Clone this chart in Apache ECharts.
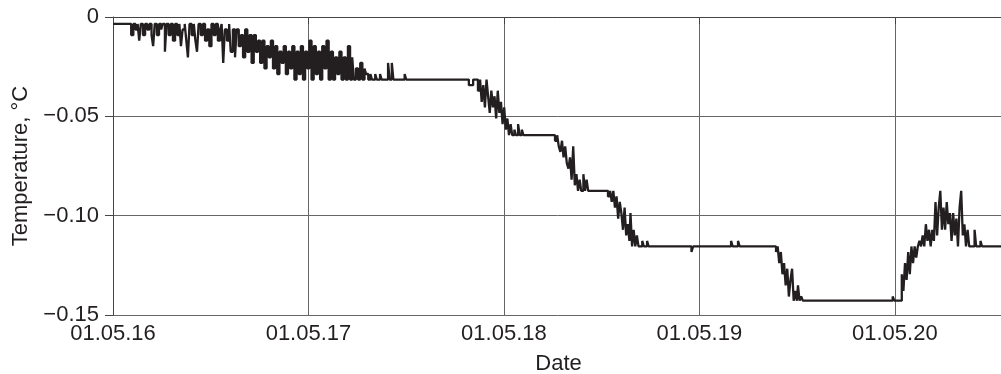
<!DOCTYPE html>
<html>
<head>
<meta charset="utf-8">
<title>Temperature</title>
<script src="https://cdn.jsdelivr.net/npm/echarts@6.0.0/dist/echarts.min.js"></script>
<style>
	html, body { margin: 0; padding: 0; background: #fff; }
	#draw { width: 1001px; height: 374px; }
</style>
</head>
<body>
<div id="draw"></div>
<script>
// days counted from 01.05.16, temperature in °C
var tickLabels = [ '01.05.16', '01.05.17', '01.05.18', '01.05.19', '01.05.20' ];
var yearDays = 365.25;

var drift2016 = [ [0,-0.0035],[34,-0.0091],[38,-0.0035],[42,-0.0063],[46,-0.0035],[49,-0.0119],[52,-0.0035],[56,-0.0091],[60,-0.0035],[64,-0.0063],[68,-0.0035],
	[72,-0.0091],[75,-0.0147],[78,-0.0035],[82,-0.0091],[86,-0.0035],[90,-0.0063],[93,-0.0035],[97,-0.0175],[100,-0.0035],[104,-0.0091],[108,-0.0035],[112,-0.0119],[116,-0.0035],
	[120,-0.0091],[124,-0.0035],[127,-0.0147],[130,-0.0063],[134,-0.0035],[137,-0.0119],[140,-0.0203],[143,-0.0035],[147,-0.0091],[151,-0.0035],[154,-0.0119],[157,-0.0175],
	[160,-0.0035],[164,-0.0091],[168,-0.0035],[172,-0.0119],[176,-0.0063],[180,-0.0147],[184,-0.0035],[188,-0.0091],[192,-0.0035],[196,-0.0119],[200,-0.0063],
	[203,-0.0035],[206,-0.0231],[209,-0.0063],[213,-0.0119],[217,-0.0035],[220,-0.0175],[224,-0.0063],[228,-0.0203],
	[231,-0.0063],[235,-0.0147],[239,-0.0091],[243,-0.0203],[247,-0.0063],[251,-0.0175],[255,-0.0091],[259,-0.0231],[263,-0.0091],[267,-0.0175],[271,-0.0119],[275,-0.0231],
	[279,-0.0119],[283,-0.0259],[287,-0.0147],[291,-0.0203],[295,-0.0119],[299,-0.0259],[303,-0.0147],[307,-0.0287],[311,-0.0175],[315,-0.0231],[319,-0.0147],[323,-0.0287],[327,-0.0175],[331,-0.0259],
	[335,-0.0147],[339,-0.0315],[343,-0.0175],[347,-0.0287],[351,-0.0147],[355,-0.0315],[359,-0.0175],[363,-0.0259],[367,-0.0119],[371,-0.0315],[375,-0.0147],[379,-0.0287],
	[383,-0.0175],[387,-0.0315],[391,-0.0147],[395,-0.0259],[399,-0.0119],[403,-0.0315],
	[407,-0.0175],[411,-0.0315],[415,-0.0203],[419,-0.0287],[423,-0.0175],[427,-0.0315],[431,-0.0203],[435,-0.0315],[439,-0.0147],[443,-0.0315],
	[447,-0.0203],[450,-0.0315],[454,-0.0259],[458,-0.0315],[462,-0.0231],[466,-0.0315],[470,-0.0259],[473,-0.0287],[477,-0.0315],
	[481,-0.0287],[484,-0.0315],[490,-0.0287],[493,-0.0315],[499,-0.0287],[502,-0.0315],[514,-0.0231],[517,-0.0315],[521,-0.0231],[524,-0.0315],[545,-0.0287],[548,-0.0315] ];

var steps2018 = [ [665,-0.0343],[673,-0.0315],
	[682,-0.0371],[686,-0.0315],[689,-0.0427],[692,-0.0343],[695,-0.0455],[698,-0.0315],[701,-0.0399],[704,-0.0483],[707,-0.0371],[710,-0.0455],
	[713,-0.0399],[716,-0.0511],[719,-0.0371],[722,-0.0483],[725,-0.0427],
	[728,-0.0539],[731,-0.0455],[734,-0.0567],[737,-0.0511],[740,-0.0595],[743,-0.0539],
	[746,-0.0595],[750,-0.0567],[753,-0.0595],[757,-0.0539],[760,-0.0595],[764,-0.0567],[767,-0.0595],
	[826,-0.0623],[830,-0.0595],[833,-0.0651],
	[836,-0.0679],[839,-0.0623],[842,-0.0707],[845,-0.0651],[848,-0.0735],
	[851,-0.0763],[854,-0.0707],[857,-0.0819],[860,-0.0651],[863,-0.0847],[866,-0.0791],[869,-0.0875],
	[872,-0.0819],[875,-0.0875],[879,-0.0791],[882,-0.0875],[885,-0.0819],[888,-0.0875],
	[925,-0.0903],[929,-0.0875],[932,-0.0931],
	[935,-0.0875],[938,-0.0959],[941,-0.0903],[944,-0.1015],[947,-0.0931],[950,-0.0987],
	[953,-0.1071],[956,-0.0959],[959,-0.1099],[962,-0.1043],[965,-0.1127],[967,-0.0987],[970,-0.1155],
	[973,-0.1071],[976,-0.1155],[979,-0.1099],[982,-0.1155],[989,-0.1127],[992,-0.1155],[998,-0.1127],[1001,-0.1155],
	[1081,-0.1183],[1084,-0.1155],[1155,-0.1127],[1158,-0.1155],[1168,-0.1127],[1171,-0.1155] ];

var drop2019 = [ [1239,-0.1183],[1242,-0.1155],[1245,-0.1239],[1248,-0.1183],[1251,-0.1295],
	[1254,-0.1239],[1257,-0.1351],[1260,-0.1267],[1263,-0.1407],[1266,-0.1323],[1269,-0.1267],
	[1272,-0.1428],[1275,-0.1379],[1278,-0.1428],[1280,-0.1351],[1283,-0.1428],[1286,-0.1407],[1289,-0.1428],
	[1457,-0.1407],[1460,-0.1428] ];

var recovery2020 = [ [1474,-0.1295],[1477,-0.1379],[1480,-0.1239],[1483,-0.1323],[1486,-0.1183],[1489,-0.1295],
	[1492,-0.1155],[1495,-0.1239],[1498,-0.1155],[1501,-0.1211],[1504,-0.1155],
	[1507,-0.1127],[1510,-0.1155],[1513,-0.1099],[1516,-0.1155],
	[1519,-0.1043],[1522,-0.1127],[1525,-0.1071],[1528,-0.1155],[1531,-0.1071],[1534,-0.1127],
	[1537,-0.0931],[1540,-0.1099],[1543,-0.0959],[1546,-0.0875],[1549,-0.1071],
	[1552,-0.0959],[1555,-0.1071],[1558,-0.0931],[1561,-0.1043],[1564,-0.0987],
	[1567,-0.1127],[1570,-0.0987],[1573,-0.1099],[1576,-0.1015],
	[1579,-0.1155],[1582,-0.0959],[1585,-0.0875],[1588,-0.1099],[1591,-0.1043],[1594,-0.1155],
	[1597,-0.1071],[1600,-0.1155],[1610,-0.1071],[1613,-0.1155],[1621,-0.1127],[1624,-0.1155],[1665,-0.1155] ];

var readings = drift2016.concat(steps2018, drop2019, recovery2020);

var textFont = '"Liberation Sans", Arial, Helvetica, sans-serif';
var myChart = echarts.init(document.getElementById('draw'));

option = {
	animation : false,
	grid : {
		left : 113,
		right : -3,
		top : 17,
		bottom : 59,
		outerBoundsMode : 'none'
	},
	xAxis : {
		type : 'value',
		min : 0,
		max : 1665,
		interval : yearDays,
		name : 'Date',
		nameLocation : 'middle',
		nameGap : 38,
		nameTextStyle : { fontSize : 22, color : '#231f20', fontFamily : textFont },
		axisLine : { lineStyle : { color : '#444' } },
		axisTick : { length : 7, lineStyle : { color : '#444' } },
		axisLabel : {
			margin : 8,
			fontSize : 22,
			color : '#231f20',
			fontFamily : textFont,
			formatter : function(v) {
				var i = Math.round(v / yearDays);
				if (Math.abs(v - i * yearDays) < 1 && tickLabels[i]) {
					return tickLabels[i];
				}
				return '';
			}
		},
		splitLine : { show : true, lineStyle : { color : '#666', width : 1 } }
	},
	yAxis : {
		type : 'value',
		min : -0.15,
		max : 0,
		interval : 0.05,
		name : 'Temperature, °C',
		nameLocation : 'middle',
		nameGap : 80,
		nameTextStyle : { fontSize : 22, color : '#231f20', fontFamily : textFont },
		axisLine : { show : true, lineStyle : { color : '#444' } },
		axisTick : { show : true, length : 8, lineStyle : { color : '#444' } },
		axisLabel : {
			margin : 14,
			fontSize : 22,
			color : '#231f20',
			fontFamily : textFont,
			formatter : function(v) {
				if (Math.abs(v) < 1e-9) {
					return '0';
				}
				return '\u2212' + Math.abs(v).toFixed(2);
			}
		},
		splitLine : { show : true, lineStyle : { color : '#666', width : 1 } }
	},
	series : [ {
		name : 'Temperature',
		type : 'line',
		step : 'end',
		symbol : 'none',
		data : readings,
		lineStyle : { color : '#231f20', width : 2.3 }
	} ]
};

myChart.setOption(option);
</script>
</body>
</html>
